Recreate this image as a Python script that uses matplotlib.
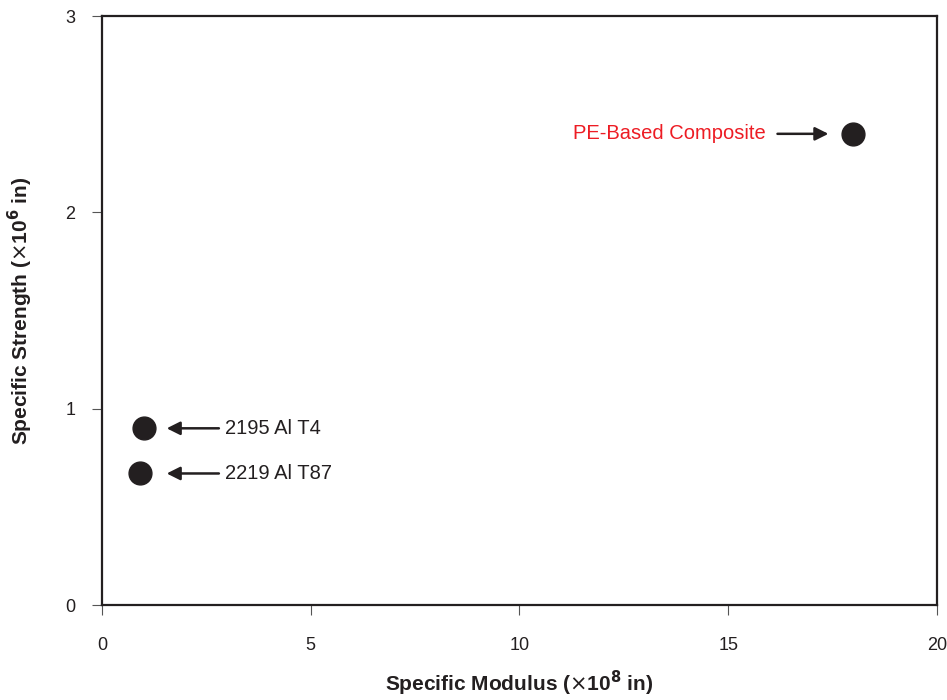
import matplotlib
matplotlib.use("Agg")
import matplotlib.pyplot as plt

plt.rcParams['font.family'] = ['Liberation Sans Narrow', 'Liberation Sans', 'DejaVu Sans']

# data
names = ['PE-Based Composite', '2195 Al T4', '2219 Al T87']
modulus = [18.0, 1.0, 0.9]        # x 10^8 in
strength = [2.40, 0.90, 0.67]     # x 10^6 in
label_colors = ['#ed1c24', '#231f20', '#231f20']

xticks = [0, 5, 10, 15, 20]
yticks = [0, 1, 2, 3]

fig = plt.figure(figsize=(9.47, 7.0), dpi=100)
ax = fig.add_axes([0.1077, 0.1357, 0.8817, 0.8414])

ax.scatter(modulus, strength, s=270, color='#231f20', zorder=3, clip_on=False)

# annotations with arrows
arrow = dict(arrowstyle='-|>', color='#231f20', lw=1.8, mutation_scale=20,
             shrinkA=0, shrinkB=0)
ax.annotate('', xy=(modulus[0] - 0.6, strength[0]), xytext=(modulus[0] - 1.82, strength[0]),
            arrowprops=arrow)
ax.text(modulus[0] - 2.1, strength[0], names[0], color=label_colors[0],
        fontsize=14.5, ha='right', va='center')
for i in [1, 2]:
    ax.annotate('', xy=(1.55, strength[i]), xytext=(2.8, strength[i]), arrowprops=arrow)
    ax.text(2.95, strength[i], names[i], color=label_colors[i],
            fontsize=14.5, ha='left', va='center')

ax.set_xlim(0, 20)
ax.set_ylim(0, 3)
ax.set_xticks(xticks)
ax.set_yticks(yticks)
ax.tick_params(direction='out', length=7, width=0.8, color='#555555',
               labelsize=13, labelcolor='#231f20')
ax.tick_params(axis='x', pad=16)
ax.tick_params(axis='y', pad=12)
for sp in ax.spines.values():
    sp.set_linewidth(1.6)
    sp.set_color('#231f20')

ax.set_xlabel('Specific Modulus ($\\times$10$^{\\mathbf{8}}$ in)', fontsize=15,
              fontweight='bold', color='#231f20', labelpad=11)
ax.set_ylabel('Specific Strength ($\\times$10$^{\\mathbf{6}}$ in)', fontsize=15,
              fontweight='bold', color='#231f20', labelpad=22)

fig.savefig('out.png', dpi=100)
